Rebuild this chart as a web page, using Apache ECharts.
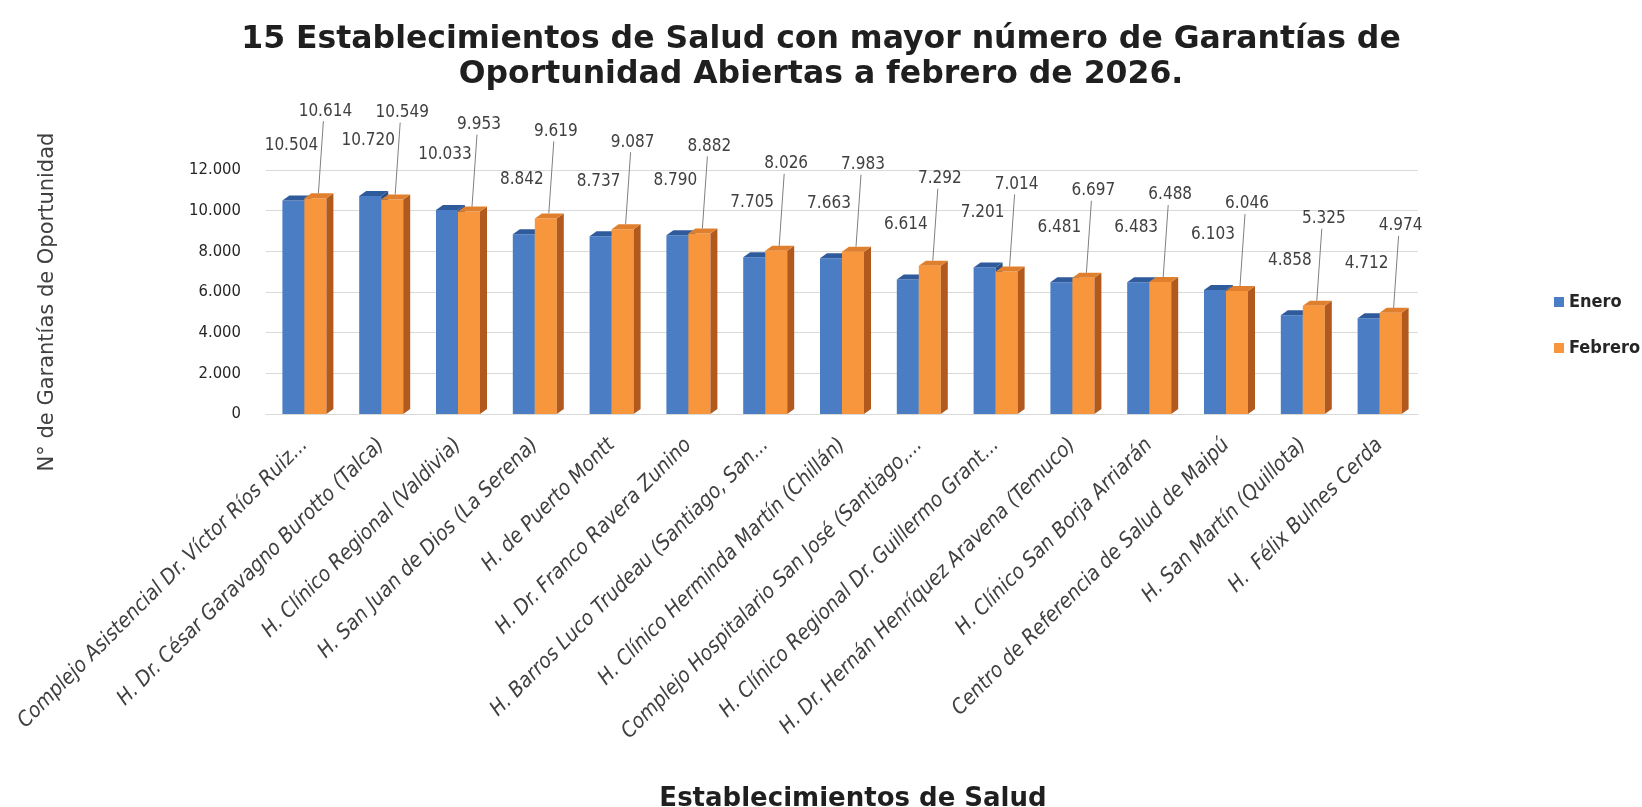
<!DOCTYPE html>
<html>
<head>
<meta charset="utf-8">
<script src="https://cdn.jsdelivr.net/npm/echarts@6/dist/echarts.min.js"></script>
<style>
  html, body { margin: 0; padding: 0; background: #ffffff; }
  #chart { width: 1642px; height: 807px; }
</style>
</head>
<body>
<div id="chart"></div>
<script>
// establecimientos
var categories = [
  "Complejo Asistencial Dr. Víctor Ríos Ruiz...",
  "H. Dr. César Garavagno Burotto (Talca)",
  "H. Clínico Regional (Valdivia)",
  "H. San Juan de Dios (La Serena)",
  "H. de Puerto Montt",
  "H. Dr. Franco Ravera Zunino",
  "H. Barros Luco Trudeau (Santiago, San...",
  "H. Clínico Herminda Martín (Chillán)",
  "Complejo Hospitalario San José (Santiago,...",
  "H. Clínico Regional Dr. Guillermo Grant...",
  "H. Dr. Hernán Henríquez Aravena (Temuco)",
  "H. Clínico San Borja Arriarán",
  "Centro de Referencia de Salud de Maipú",
  "H. San Martín (Quillota)",
  "H.  Félix Bulnes Cerda"
];
var enero = [10504, 10720, 10033, 8842, 8737, 8790, 7705, 7663, 6614, 7201, 6481, 6483, 6103, 4858, 4712];
var febrero = [10614, 10549, 9953, 9619, 9087, 8882, 8026, 7983, 7292, 7014, 6697, 6488, 6046, 5325, 4974];
var yTicks = { min: 0, max: 12000, interval: 2000 };

var chart = echarts.init(document.getElementById("chart"));

// 12000 -> "12.000"
function fmt(v) {
  return String(v).replace(/\B(?=(\d{3})+(?!\d))/g, ".");
}

var COND = '"DejaVu Sans Condensed", "DejaVu Sans", sans-serif';
var BW = 22, DX = 7, DY = 5;

// barra 3D: frente + costado + tapa, con etiqueta
function make3D(colors, side, lblDx, lblDy, withLine) {
  return function (params, api) {
    var idx = api.value(0);
    var val = api.value(1);
    var top = api.coord([idx, val]);
    var base = api.coord([idx, 0]);
    var x0 = side < 0 ? top[0] - BW : top[0];
    var x1 = x0 + BW;
    var yt = top[1], yb = base[1];
    var cx = (x0 + x1) / 2;
    var lx = cx + lblDx, ly = yt + lblDy;
    var children = [
      { type: "rect", shape: { x: x0, y: yt, width: BW, height: yb - yt }, style: { fill: colors[0] } },
      { type: "polygon", shape: { points: [[x1, yt], [x1 + DX, yt - DY], [x1 + DX, yb - DY], [x1, yb]] }, style: { fill: colors[2] } },
      { type: "polygon", shape: { points: [[x0, yt], [x0 + DX, yt - DY], [x1 + DX, yt - DY], [x1, yt]] }, style: { fill: colors[1] } }
    ];
    if (withLine) {
      children.push({
        type: "line",
        shape: { x1: lx - 2, y1: ly + 10, x2: cx + 3, y2: yt - DY },
        style: { stroke: "#7f7f7f", lineWidth: 1 }
      });
    }
    children.push({
      type: "text",
      style: {
        text: fmt(val), x: lx, y: ly,
        align: "center", verticalAlign: "middle",
        fill: "#404040", font: '17px ' + COND
      }
    });
    return { type: "group", children: children };
  };
}

var blue = ["#4a7dc4", "#2f5b9c", "#2b4e85"];
var orange = ["#f7963c", "#e0802e", "#b25a1e"];

var option = {
  backgroundColor: "#ffffff",
  title: {
    text: "15 Establecimientos de Salud con mayor número de Garantías de\nOportunidad Abiertas a febrero de 2026.",
    left: "center",
    top: 17,
    textStyle: {
      fontFamily: '"DejaVu Sans", sans-serif',
      fontWeight: "bold",
      fontSize: 31.5,
      lineHeight: 35,
      color: "#1f1f1f"
    }
  },
  legend: {
    orient: "vertical",
    left: 1549,
    top: 288,
    itemGap: 28,
    icon: "rect",
    itemWidth: 10,
    itemHeight: 10,
    data: ["Enero", "Febrero"],
    textStyle: {
      fontFamily: COND,
      fontWeight: "bold",
      fontSize: 18,
      color: "#262626"
    }
  },
  grid: { left: 266, right: 224, top: 170, bottom: 393, outerBoundsMode: "none" },
  xAxis: {
    type: "category",
    data: categories,
    name: "Establecimientos de Salud",
    nameLocation: "middle",
    nameGap: 372,
    nameTextStyle: {
      fontFamily: '"DejaVu Sans", sans-serif',
      fontWeight: "bold",
      fontSize: 26,
      color: "#1f1f1f",
      padding: [0, 0, 0, 22]
    },
    axisLine: { show: true, lineStyle: { color: "#d9d9d9" } },
    axisTick: { show: false },
    axisLabel: {
      interval: 0,
      rotate: 45,
      margin: 28,
      fontStyle: "italic",
      fontFamily: COND,
      fontSize: 21,
      color: "#404040"
    }
  },
  yAxis: {
    type: "value",
    min: yTicks.min,
    max: yTicks.max,
    interval: yTicks.interval,
    name: "N° de Garantías de Oportunidad",
    nameLocation: "middle",
    nameGap: 208,
    nameTextStyle: {
      fontFamily: '"DejaVu Sans", sans-serif',
      fontSize: 21,
      color: "#404040",
      padding: [0, 20, 0, 0]
    },
    axisLine: { show: false },
    axisTick: { show: false },
    splitLine: { lineStyle: { color: "#d9d9d9" } },
    axisLabel: {
      margin: 25,
      formatter: fmt,
      fontFamily: COND,
      fontSize: 16.5,
      color: "#262626"
    }
  },
  series: [
    {
      name: "Enero",
      type: "custom",
      itemStyle: { color: blue[0] },
      encode: { x: 0, y: 1 },
      data: enero.map(function (v, i) { return [i, v]; }),
      renderItem: make3D(blue, -1, -2, -55, false)
    },
    {
      name: "Febrero",
      type: "custom",
      itemStyle: { color: orange[0] },
      encode: { x: 0, y: 1 },
      data: febrero.map(function (v, i) { return [i, v]; }),
      renderItem: make3D(orange, 1, 10, -87, true)
    }
  ]
};

chart.setOption(option);
</script>
</body>
</html>
